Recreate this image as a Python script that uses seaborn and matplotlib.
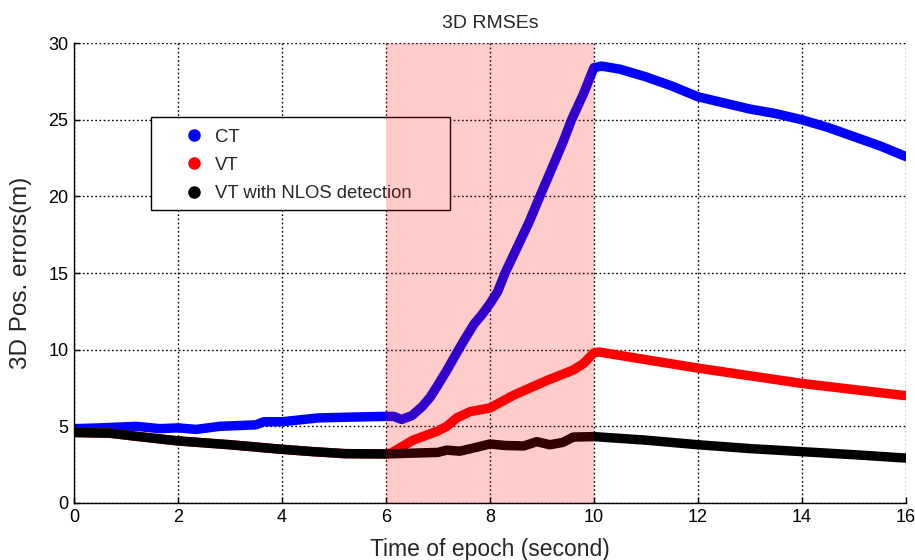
import matplotlib
matplotlib.use("Agg")
import matplotlib.pyplot as plt
from matplotlib.lines import Line2D
from matplotlib.patches import Rectangle
import seaborn as sns

# (time in s, error in m)
ct_t = [0, 0.5, 1.2, 1.65, 2.0, 2.35, 2.8, 3.5, 3.65, 4.0, 4.7, 5.3, 6.0, 6.15, 6.3,
        6.5, 6.7, 6.85, 7.0, 7.17, 7.38, 7.5, 7.7, 7.85, 8.0, 8.15, 8.29, 8.5, 8.75,
        8.96, 9.2, 9.4, 9.57, 9.8, 10.0, 10.15, 10.5, 11.0, 11.5, 12.0, 12.5, 13.0,
        13.5, 14.0, 14.5, 15.0, 15.5, 16.0]
ct_v = [4.85, 4.9, 5.0, 4.85, 4.9, 4.8, 5.0, 5.1, 5.3, 5.3, 5.55, 5.6, 5.65, 5.65, 5.45,
        5.7, 6.3, 6.9, 7.7, 8.65, 9.9, 10.6, 11.7, 12.3, 13.0, 13.8, 15.0, 16.5, 18.3,
        20.0, 21.9, 23.5, 25.0, 26.7, 28.4, 28.5, 28.3, 27.8, 27.2, 26.5, 26.1, 25.7,
        25.4, 25.0, 24.5, 23.9, 23.3, 22.6]

vt_t = [0, 0.7, 1.2, 2.0, 3.0, 4.0, 4.6, 5.2, 6.0, 6.1, 6.52, 7.0, 7.17, 7.36, 7.62,
        8.0, 8.46, 9.1, 9.6, 9.8, 10.0, 10.1, 11.0, 12.0, 13.0, 14.0, 15.0, 16.0]
vt_v = [4.6, 4.55, 4.35, 4.05, 3.8, 3.5, 3.35, 3.22, 3.2, 3.26, 4.1, 4.7, 5.0, 5.55, 5.96,
        6.2, 7.04, 8.0, 8.67, 9.1, 9.8, 9.85, 9.35, 8.8, 8.3, 7.8, 7.4, 7.0]

nlos_t = [0, 0.7, 1.2, 2.0, 3.0, 4.0, 4.6, 5.2, 6.0, 6.5, 7.0, 7.17, 7.42, 7.7, 8.0,
          8.3, 8.65, 8.9, 9.15, 9.4, 9.6, 10.0, 11.0, 12.0, 13.0, 14.0, 15.0, 16.0]
nlos_v = [4.6, 4.55, 4.35, 4.05, 3.8, 3.5, 3.35, 3.22, 3.2, 3.25, 3.3, 3.45, 3.38, 3.6,
          3.85, 3.75, 3.72, 4.0, 3.8, 3.95, 4.3, 4.33, 4.1, 3.8, 3.55, 3.35, 3.15, 2.93]

labels = ["CT", "VT", "VT with NLOS detection"]
colors = ["#0000ff", "#ff0000", "#000000"]
x_ticks = [0, 2, 4, 6, 8, 10, 12, 14, 16]
y_ticks = [0, 5, 10, 15, 20, 25, 30]
span = (6, 10)

sns.set_style("ticks")
plt.rcParams["font.family"] = ["Liberation Sans", "DejaVu Sans"]

fig = plt.figure(figsize=(9.15, 5.6), dpi=100)
ax = fig.add_axes([0.0809, 0.1018, 0.9091, 0.8212])

for t, v, c in zip([ct_t, vt_t, nlos_t], [ct_v, vt_v, nlos_v], colors):
    sns.lineplot(x=t, y=v, color=c, linewidth=6.8, sort=False, estimator=None,
                 solid_capstyle="round", solid_joinstyle="round", ax=ax, zorder=2)

# shaded NLOS interval sits on top of everything (as in the original)
ax.axvspan(*span, color="red", alpha=0.2, lw=0, zorder=4)

ax.set_xlim(0, 16)
ax.set_ylim(0, 30)
ax.set_xticks(x_ticks)
ax.set_yticks(y_ticks)
ax.grid(True, color="black", linestyle=(0, (1.2, 1.8)), linewidth=1.0)
ax.set_axisbelow(True)
ax.tick_params(direction="in", length=4, width=1, labelsize=13, colors="black", pad=4)
for s in ["top", "right"]:
    ax.spines[s].set_visible(False)
for s in ["left", "bottom"]:
    ax.spines[s].set_color("black")
    ax.spines[s].set_linewidth(1.0)

ax.set_title("3D RMSEs", fontsize=14, pad=11)
ax.set_xlabel("Time of epoch (second)", fontsize=16.5, labelpad=9)
ax.set_ylabel("3D Pos. errors(m)", fontsize=17.5, labelpad=12)

# legend box, MATLAB style (wide frame, markers only)
ax.add_patch(Rectangle((0.0925, 0.637), 0.3594, 0.2022, transform=ax.transAxes,
                       facecolor="white", edgecolor="black", lw=1.0, zorder=3))
handles = [Line2D([], [], linestyle="none", marker="o", markersize=8,
                  markerfacecolor=c, markeredgecolor=c) for c in colors]
leg = ax.legend(handles, labels, loc="upper left", bbox_to_anchor=(0.1334, 0.814),
                fontsize=13.3, frameon=False, borderpad=0, labelspacing=0.61,
                handletextpad=0.63, borderaxespad=0, handlelength=1.0)
leg.set_zorder(3.5)

fig.savefig("out.png", dpi=100)
